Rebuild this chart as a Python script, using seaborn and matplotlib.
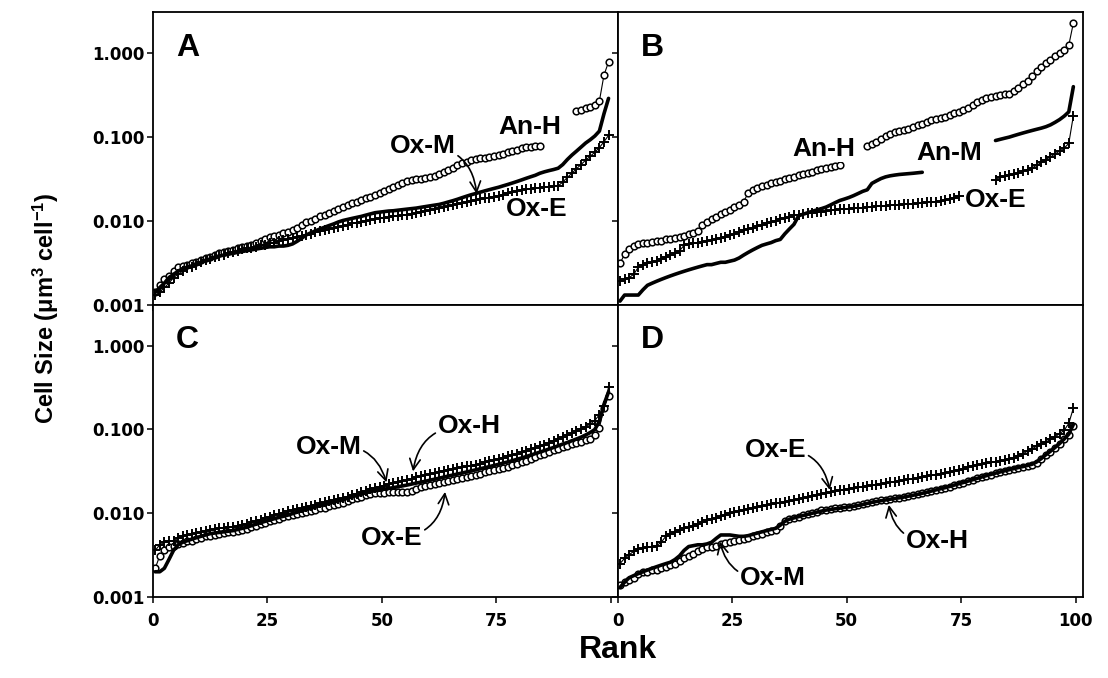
import numpy as np
import pandas as pd
import matplotlib
matplotlib.use("Agg")
import matplotlib.pyplot as plt
import seaborn as sns

sns.set_style("ticks")
plt.rcParams["font.family"] = ["Liberation Sans", "DejaVu Sans"]
plt.rcParams["text.color"] = "black"
plt.rcParams["mathtext.fontset"] = "custom"
plt.rcParams["mathtext.bf"] = "Liberation Sans:bold"
plt.rcParams["mathtext.rm"] = "Liberation Sans"
plt.rcParams["mathtext.default"] = "bf"

nan = np.nan

# rank of each cell (100 cells per sample)
rank = np.arange(100) + 0.5

# cell size (um3 cell-1), one list per sample
# panel A
A_H = [0.0014, 0.0017, 0.0020, 0.0022, 0.0025, 0.0028, 0.0029, 0.0030, 0.0031, 0.0032,
       0.0034, 0.0036, 0.0037, 0.0039, 0.0041, 0.0042, 0.0044, 0.0045, 0.0047, 0.0049,
       0.0050, 0.0052, 0.0055, 0.0057, 0.0060, 0.0064, 0.0066, 0.0068, 0.0071, 0.0074,
       0.0077, 0.0083, 0.0090, 0.0096, 0.0100, 0.0106, 0.0113, 0.0118, 0.0124, 0.0130,
       0.0138, 0.0146, 0.0155, 0.0163, 0.0170, 0.0177, 0.0185, 0.0194, 0.0205, 0.0215,
       0.0228, 0.0240, 0.0255, 0.0270, 0.0285, 0.0298, 0.0305, 0.0312, 0.0318, 0.0325,
       0.0332, 0.0345, 0.0362, 0.0385, 0.0405, 0.0430, 0.0460, 0.0485, 0.0510, 0.0535,
       0.0552, 0.0560, 0.0565, 0.0572, 0.0590, 0.0610, 0.0635, 0.0660, 0.0685, 0.0710,
       0.0735, 0.0760, 0.0770, 0.0780, 0.0790, nan, nan, nan, nan, nan,
       nan, nan, 0.205, 0.212, 0.220, 0.228, 0.240, 0.270, 0.550, 0.790]
A_M = [0.0014, 0.0016, 0.0018, 0.0021, 0.0023, 0.0025, 0.0027, 0.0028, 0.0029, 0.0031,
       0.0032, 0.0034, 0.0035, 0.0037, 0.0038, 0.0039, 0.0040, 0.0041, 0.0042, 0.0043,
       0.0044, 0.0045, 0.0046, 0.0047, 0.0048, 0.0049, 0.0049, 0.0050, 0.0050, 0.0051,
       0.0053, 0.0057, 0.0062, 0.0068, 0.0072, 0.0076, 0.0080, 0.0084, 0.0088, 0.0092,
       0.0097, 0.0101, 0.0104, 0.0107, 0.0110, 0.0113, 0.0117, 0.0121, 0.0125, 0.0127,
       0.0129, 0.0131, 0.0132, 0.0134, 0.0136, 0.0138, 0.0140, 0.0142, 0.0145, 0.0148,
       0.0151, 0.0154, 0.0157, 0.0162, 0.0168, 0.0174, 0.0181, 0.0189, 0.0197, 0.0205,
       0.0212, 0.0220, 0.0228, 0.0236, 0.0244, 0.0252, 0.0262, 0.0272, 0.0283, 0.0295,
       0.0308, 0.0322, 0.0336, 0.0350, 0.0370, 0.0385, 0.0398, 0.0410, 0.0425, 0.0470,
       0.0540, 0.0610, 0.0680, 0.0760, 0.0850, 0.0930, 0.1030, 0.1180, 0.1900, 0.2900]
A_E = [0.0013, 0.0014, 0.0016, 0.0018, 0.0021, 0.0023, 0.0025, 0.0027, 0.0028, 0.0030,
       0.0032, 0.0034, 0.0035, 0.0037, 0.0038, 0.0039, 0.0041, 0.0042, 0.0044, 0.0046,
       0.0047, 0.0048, 0.0049, 0.0051, 0.0052, 0.0054, 0.0055, 0.0057, 0.0059, 0.0061,
       0.0062, 0.0064, 0.0066, 0.0068, 0.0070, 0.0073, 0.0075, 0.0077, 0.0080, 0.0082,
       0.0085, 0.0087, 0.0090, 0.0093, 0.0095, 0.0098, 0.0100, 0.0103, 0.0105, 0.0107,
       0.0109, 0.0111, 0.0113, 0.0115, 0.0117, 0.0119, 0.0122, 0.0125, 0.0128, 0.0131,
       0.0135, 0.0139, 0.0143, 0.0147, 0.0151, 0.0155, 0.0159, 0.0163, 0.0167, 0.0171,
       0.0175, 0.0180, 0.0185, 0.0190, 0.0195, 0.0200, 0.0206, 0.0213, 0.0220, 0.0228,
       0.0235, 0.0240, 0.0243, 0.0246, 0.0249, 0.0252, 0.0255, 0.0258, 0.0262, 0.0290,
       0.0330, 0.0370, 0.0420, 0.0470, 0.0530, 0.0590, 0.0660, 0.0750, 0.0880, 0.1050]
# panel B
B_H = [0.0031, 0.0040, 0.0046, 0.0050, 0.0053, 0.0054, 0.0055, 0.0056, 0.0057, 0.0058,
       0.0060, 0.0061, 0.0062, 0.0064, 0.0066, 0.0069, 0.0072, 0.0076, 0.0088, 0.0098,
       0.0105, 0.0112, 0.0120, 0.0128, 0.0135, 0.0145, 0.0155, 0.0170, 0.0215, 0.0232,
       0.0245, 0.0258, 0.0270, 0.0282, 0.0292, 0.0302, 0.0312, 0.0325, 0.0338, 0.0350,
       0.0362, 0.0375, 0.0388, 0.0400, 0.0415, 0.0425, 0.0435, 0.0448, 0.0460, nan,
       nan, nan, nan, nan, 0.078, 0.083, 0.088, 0.095, 0.103, 0.110,
       0.115, 0.119, 0.122, 0.126, 0.132, 0.138, 0.145, 0.152, 0.158, 0.163,
       0.169, 0.175, 0.183, 0.192, 0.201, 0.210, 0.225, 0.242, 0.260, 0.278,
       0.292, 0.303, 0.312, 0.318, 0.324, 0.330, 0.355, 0.385, 0.425, 0.470,
       0.540, 0.620, 0.690, 0.760, 0.840, 0.920, 1.000, 1.100, 1.250, 2.300]
B_M = [0.0011, 0.0013, 0.0013, 0.0013, 0.0013, 0.0015, 0.0017, 0.0018, 0.0019, 0.0020,
       0.0021, 0.0022, 0.0023, 0.0024, 0.0025, 0.0026, 0.0027, 0.0028, 0.0029, 0.0030,
       0.0030, 0.0031, 0.0032, 0.0032, 0.0033, 0.0034, 0.0036, 0.0039, 0.0042, 0.0045,
       0.0048, 0.0051, 0.0053, 0.0055, 0.0058, 0.0060, 0.0070, 0.0080, 0.0091, 0.0115,
       0.0120, 0.0125, 0.0130, 0.0135, 0.0140, 0.0146, 0.0155, 0.0165, 0.0175, 0.0182,
       0.0190, 0.0200, 0.0212, 0.0225, 0.0235, 0.0280, 0.0300, 0.0320, 0.0335, 0.0345,
       0.0352, 0.0358, 0.0362, 0.0366, 0.0370, 0.0375, 0.0380, nan, nan, nan,
       nan, nan, nan, nan, nan, nan, nan, nan, nan, nan,
       nan, nan, 0.091, 0.094, 0.097, 0.100, 0.104, 0.108, 0.112, 0.116,
       0.120, 0.124, 0.128, 0.133, 0.140, 0.150, 0.162, 0.178, 0.200, 0.400]
B_E = [0.0019, 0.0020, 0.0021, 0.0023, 0.0028, 0.0030, 0.0031, 0.0032, 0.0033, 0.0035,
       0.0037, 0.0039, 0.0041, 0.0044, 0.0051, 0.0053, 0.0054, 0.0055, 0.0056, 0.0058,
       0.0059, 0.0061, 0.0063, 0.0065, 0.0067, 0.0070, 0.0073, 0.0077, 0.0080, 0.0083,
       0.0086, 0.0089, 0.0093, 0.0097, 0.0100, 0.0104, 0.0108, 0.0112, 0.0116, 0.0119,
       0.0121, 0.0123, 0.0125, 0.0127, 0.0129, 0.0131, 0.0133, 0.0135, 0.0137, 0.0138,
       0.0140, 0.0141, 0.0143, 0.0144, 0.0146, 0.0148, 0.0150, 0.0151, 0.0152, 0.0153,
       0.0155, 0.0156, 0.0157, 0.0159, 0.0160, 0.0162, 0.0164, 0.0166, 0.0168, 0.0170,
       0.0172, 0.0176, 0.0182, 0.0190, 0.0198, nan, nan, nan, nan, nan,
       nan, nan, 0.031, 0.033, 0.034, 0.035, 0.036, 0.037, 0.039, 0.041,
       0.043, 0.046, 0.050, 0.054, 0.058, 0.063, 0.068, 0.074, 0.084, 0.180]
# panel C
C_H = [0.0022, 0.0031, 0.0036, 0.0039, 0.0041, 0.0043, 0.0044, 0.0046, 0.0047, 0.0049,
       0.0051, 0.0053, 0.0054, 0.0055, 0.0057, 0.0058, 0.0059, 0.0060, 0.0062, 0.0063,
       0.0065, 0.0068, 0.0071, 0.0074, 0.0077, 0.0080, 0.0083, 0.0086, 0.0089, 0.0092,
       0.0095, 0.0098, 0.0101, 0.0104, 0.0107, 0.0110, 0.0114, 0.0117, 0.0121, 0.0125,
       0.0129, 0.0134, 0.0140, 0.0146, 0.0152, 0.0158, 0.0164, 0.0170, 0.0174, 0.0175,
       0.0176, 0.0177, 0.0178, 0.0179, 0.0180, 0.0181, 0.0186, 0.0194, 0.0203, 0.0211,
       0.0218, 0.0224, 0.0229, 0.0235, 0.0242, 0.0249, 0.0256, 0.0264, 0.0272, 0.0280,
       0.0289, 0.0298, 0.0307, 0.0317, 0.0327, 0.0337, 0.0348, 0.0360, 0.0375, 0.0390,
       0.0407, 0.0425, 0.0445, 0.0465, 0.0490, 0.0515, 0.0540, 0.0565, 0.0590, 0.0615,
       0.0640, 0.0665, 0.0690, 0.0715, 0.0740, 0.0765, 0.0850, 0.1050, 0.1800, 0.2500]
C_M = [0.0020, 0.0020, 0.0022, 0.0028, 0.0036, 0.0042, 0.0045, 0.0047, 0.0049, 0.0051,
       0.0053, 0.0055, 0.0057, 0.0058, 0.0059, 0.0060, 0.0061, 0.0062, 0.0064, 0.0066,
       0.0068, 0.0071, 0.0074, 0.0077, 0.0080, 0.0083, 0.0086, 0.0089, 0.0092, 0.0095,
       0.0099, 0.0103, 0.0107, 0.0111, 0.0115, 0.0119, 0.0123, 0.0127, 0.0131, 0.0136,
       0.0141, 0.0146, 0.0151, 0.0157, 0.0163, 0.0169, 0.0175, 0.0181, 0.0186, 0.0190,
       0.0194, 0.0198, 0.0202, 0.0207, 0.0212, 0.0217, 0.0223, 0.0229, 0.0235, 0.0241,
       0.0248, 0.0255, 0.0262, 0.0270, 0.0278, 0.0286, 0.0294, 0.0302, 0.0311, 0.0320,
       0.0330, 0.0340, 0.0350, 0.0361, 0.0372, 0.0384, 0.0397, 0.0410, 0.0425, 0.0440,
       0.0457, 0.0475, 0.0495, 0.0515, 0.0537, 0.0560, 0.0585, 0.0610, 0.0640, 0.0670,
       0.0700, 0.0735, 0.0770, 0.0810, 0.0860, 0.0920, 0.1000, 0.1250, 0.2000, 0.2800]
C_E = [0.0036, 0.0042, 0.0045, 0.0046, 0.0047, 0.0050, 0.0053, 0.0055, 0.0057, 0.0058,
       0.0060, 0.0062, 0.0063, 0.0064, 0.0066, 0.0067, 0.0068, 0.0069, 0.0071, 0.0072,
       0.0075, 0.0078, 0.0081, 0.0084, 0.0088, 0.0091, 0.0095, 0.0098, 0.0101, 0.0105,
       0.0108, 0.0111, 0.0115, 0.0119, 0.0123, 0.0127, 0.0131, 0.0135, 0.0139, 0.0143,
       0.0147, 0.0152, 0.0158, 0.0165, 0.0172, 0.0179, 0.0186, 0.0193, 0.0200, 0.0207,
       0.0214, 0.0221, 0.0228, 0.0235, 0.0242, 0.0250, 0.0259, 0.0268, 0.0277, 0.0286,
       0.0295, 0.0305, 0.0315, 0.0323, 0.0330, 0.0338, 0.0346, 0.0354, 0.0362, 0.0371,
       0.0380, 0.0392, 0.0404, 0.0418, 0.0432, 0.0446, 0.0462, 0.0478, 0.0495, 0.0515,
       0.0535, 0.0556, 0.0578, 0.0602, 0.0628, 0.0660, 0.0695, 0.0730, 0.0770, 0.0815,
       0.0860, 0.0905, 0.0950, 0.1010, 0.1080, 0.1160, 0.1280, 0.1500, 0.1900, 0.3200]
# panel D
D_H = [0.0014, 0.0015, 0.0016, 0.0017, 0.0019, 0.0020, 0.0020, 0.0021, 0.0021, 0.0022,
       0.0023, 0.0024, 0.0025, 0.0027, 0.0029, 0.0031, 0.0033, 0.0035, 0.0037, 0.0039,
       0.0040, 0.0041, 0.0043, 0.0044, 0.0045, 0.0046, 0.0048, 0.0049, 0.0051, 0.0053,
       0.0055, 0.0057, 0.0059, 0.0061, 0.0063, 0.0070, 0.0080, 0.0085, 0.0088, 0.0091,
       0.0094, 0.0097, 0.0100, 0.0104, 0.0108, 0.0110, 0.0112, 0.0114, 0.0116, 0.0118,
       0.0120, 0.0122, 0.0125, 0.0128, 0.0132, 0.0136, 0.0139, 0.0142, 0.0145, 0.0148,
       0.0151, 0.0154, 0.0157, 0.0160, 0.0164, 0.0168, 0.0173, 0.0178, 0.0183, 0.0189,
       0.0195, 0.0201, 0.0208, 0.0216, 0.0224, 0.0232, 0.0241, 0.0250, 0.0260, 0.0270,
       0.0280, 0.0290, 0.0300, 0.0310, 0.0320, 0.0330, 0.0340, 0.0350, 0.0360, 0.0370,
       0.0380, 0.0400, 0.0440, 0.0490, 0.0540, 0.0600, 0.0670, 0.0760, 0.0870, 0.1100]
D_M = [0.0013, 0.0015, 0.0017, 0.0018, 0.0019, 0.0020, 0.0021, 0.0022, 0.0023, 0.0024,
       0.0025, 0.0026, 0.0028, 0.0031, 0.0036, 0.0040, 0.0041, 0.0042, 0.0042, 0.0043,
       0.0045, 0.0050, 0.0055, 0.0055, 0.0055, 0.0054, 0.0053, 0.0053, 0.0054, 0.0056,
       0.0058, 0.0060, 0.0062, 0.0064, 0.0066, 0.0072, 0.0080, 0.0085, 0.0088, 0.0091,
       0.0094, 0.0097, 0.0100, 0.0103, 0.0106, 0.0109, 0.0111, 0.0113, 0.0115, 0.0117,
       0.0119, 0.0121, 0.0124, 0.0127, 0.0131, 0.0135, 0.0138, 0.0141, 0.0144, 0.0147,
       0.0150, 0.0153, 0.0156, 0.0160, 0.0164, 0.0168, 0.0173, 0.0178, 0.0184, 0.0190,
       0.0196, 0.0202, 0.0209, 0.0217, 0.0225, 0.0233, 0.0242, 0.0251, 0.0261, 0.0271,
       0.0281, 0.0291, 0.0301, 0.0311, 0.0321, 0.0331, 0.0341, 0.0351, 0.0361, 0.0372,
       0.0385, 0.0410, 0.0450, 0.0500, 0.0550, 0.0610, 0.0680, 0.0770, 0.0880, 0.1150]
D_E = [0.0025, 0.0029, 0.0032, 0.0035, 0.0037, 0.0038, 0.0039, 0.0040, 0.0041, 0.0045,
       0.0053, 0.0057, 0.0060, 0.0063, 0.0066, 0.0068, 0.0071, 0.0074, 0.0078, 0.0082,
       0.0085, 0.0088, 0.0092, 0.0096, 0.0100, 0.0104, 0.0107, 0.0110, 0.0113, 0.0116,
       0.0119, 0.0122, 0.0125, 0.0128, 0.0131, 0.0134, 0.0137, 0.0141, 0.0145, 0.0149,
       0.0153, 0.0157, 0.0161, 0.0166, 0.0171, 0.0176, 0.0180, 0.0184, 0.0188, 0.0192,
       0.0196, 0.0200, 0.0204, 0.0208, 0.0212, 0.0216, 0.0220, 0.0224, 0.0229, 0.0234,
       0.0239, 0.0244, 0.0249, 0.0254, 0.0259, 0.0264, 0.0270, 0.0276, 0.0283, 0.0290,
       0.0298, 0.0306, 0.0314, 0.0322, 0.0330, 0.0342, 0.0356, 0.0370, 0.0380, 0.0390,
       0.0398, 0.0406, 0.0414, 0.0422, 0.0430, 0.0440, 0.0460, 0.0485, 0.0515, 0.0550,
       0.0590, 0.0630, 0.0670, 0.0710, 0.0760, 0.0820, 0.0890, 0.0980, 0.1180, 0.1800]

panel_letters = ["A", "B", "C", "D"]
yticks = [0.001, 0.01, 0.1, 1.0]
ytick_labels = ["0.001", "0.010", "0.100", "1.000"]
xticks = [0, 25, 50, 75, 100]

# marker styles: H = open circles, M = thick line, E = plus signs
circle_kw = dict(color="k", lw=0.8, marker="o", markersize=4.8,
                 markerfacecolor="white", markeredgecolor="k", markeredgewidth=1.1)
plus_kw = dict(color="k", lw=0.8, marker="+", markersize=7.5,
               markeredgecolor="k", markeredgewidth=1.4)
line_kw = dict(color="k", lw=2.6)


def draw(ax, vals, kw):
    y = np.asarray(vals, dtype=float)
    seg = np.cumsum(np.isnan(y))  # break the line where a label hides it
    df = pd.DataFrame({"rank": rank, "size": y, "seg": seg}).dropna()
    sns.lineplot(data=df, x="rank", y="size", units="seg", estimator=None,
                 ax=ax, legend=False, **kw)


fig, axes = plt.subplots(2, 2, figsize=(11.08, 6.78), dpi=100)
fig.subplots_adjust(left=0.138, right=0.977, top=0.982, bottom=0.1195,
                    wspace=0, hspace=0)

series = [(A_H, A_E, A_M), (B_H, B_E, B_M), (C_H, C_E, C_M), (D_H, D_E, D_M)]
for i, ax in enumerate(axes.flat):
    h, e, m = series[i]
    draw(ax, h, circle_kw)
    draw(ax, e, plus_kw)
    draw(ax, m, line_kw)
    ax.set_yscale("log")
    ax.set_ylim(0.001, 3.1)
    ax.set_xlim(0, 101.5)
    ax.yaxis.set_minor_locator(matplotlib.ticker.NullLocator())
    ax.set_yticks(yticks)
    ax.set_xticks(xticks)
    ax.set_xlabel("")
    ax.set_ylabel("")
    for sp in ax.spines.values():
        sp.set_visible(True)
        sp.set_linewidth(1.3)
        sp.set_color("k")
    ax.tick_params(direction="out", length=4, width=1.1, colors="k", pad=2,
                   labelsize=12)
    if i % 2 == 0:
        ax.set_yticklabels(ytick_labels, fontfamily="DejaVu Sans", fontweight="bold")
    else:
        ax.set_yticklabels([])
    if i >= 2:
        labs = ["0", "25", "50", "75", "100"] if i == 3 else ["0", "25", "50", "75", ""]
        ax.set_xticklabels(labs, fontfamily="DejaVu Sans", fontweight="bold")
        ax.tick_params(axis="x", pad=7)
    else:
        ax.set_xticklabels([])
    ax.text(0.05, 0.93, panel_letters[i], transform=ax.transAxes, ha="left",
            va="top", fontsize=23, fontweight="bold", color="k")

lab = dict(fontsize=19, fontweight="bold", ha="center", va="center", zorder=6,
           color="k", bbox=dict(fc="white", ec="none", pad=0.5))


def arrow(rad):
    return dict(arrowstyle="->", color="k", lw=1.2, shrinkA=1, shrinkB=0,
                connectionstyle="arc3,rad=%s" % rad)


axA, axB, axC, axD = axes.flat
axA.annotate("Ox-M", xy=(70.7, 0.021), xytext=(59, 0.078), arrowprops=arrow(-0.45), **lab)
axA.text(82.4, 0.132, "An-H", **lab)
axA.text(83.7, 0.0138, "Ox-E", **lab)

axB.text(45, 0.072, "An-H", **lab)
axB.text(72.3, 0.065, "An-M", **lab)
axB.text(82.5, 0.0177, "Ox-E", **lab)

axC.annotate("Ox-M", xy=(51, 0.0234), xytext=(38.4, 0.061), arrowprops=arrow(-0.45), **lab)
axC.annotate("Ox-H", xy=(56.8, 0.0316), xytext=(69, 0.109), arrowprops=arrow(0.45), **lab)
axC.annotate("Ox-E", xy=(63.8, 0.018), xytext=(52.2, 0.0051), arrowprops=arrow(0.45), **lab)

axD.annotate("Ox-E", xy=(46.3, 0.019), xytext=(34.5, 0.057), arrowprops=arrow(-0.45), **lab)
axD.annotate("Ox-H", xy=(59.2, 0.0126), xytext=(69.7, 0.0046), arrowprops=arrow(-0.45), **lab)
axD.annotate("Ox-M", xy=(22.3, 0.0046), xytext=(33.8, 0.0017), arrowprops=arrow(-0.45), **lab)

fig.text(0.041, 0.545, "Cell Size (μm$^{3}$ cell$^{-1}$)", rotation=90,
         ha="center", va="center", fontsize=17, fontweight="bold", color="k")
fig.text(0.558, 0.041, "Rank", ha="center", va="center", fontsize=23,
         fontweight="bold", color="k")

fig.savefig("out.png", dpi=100, facecolor="white")
